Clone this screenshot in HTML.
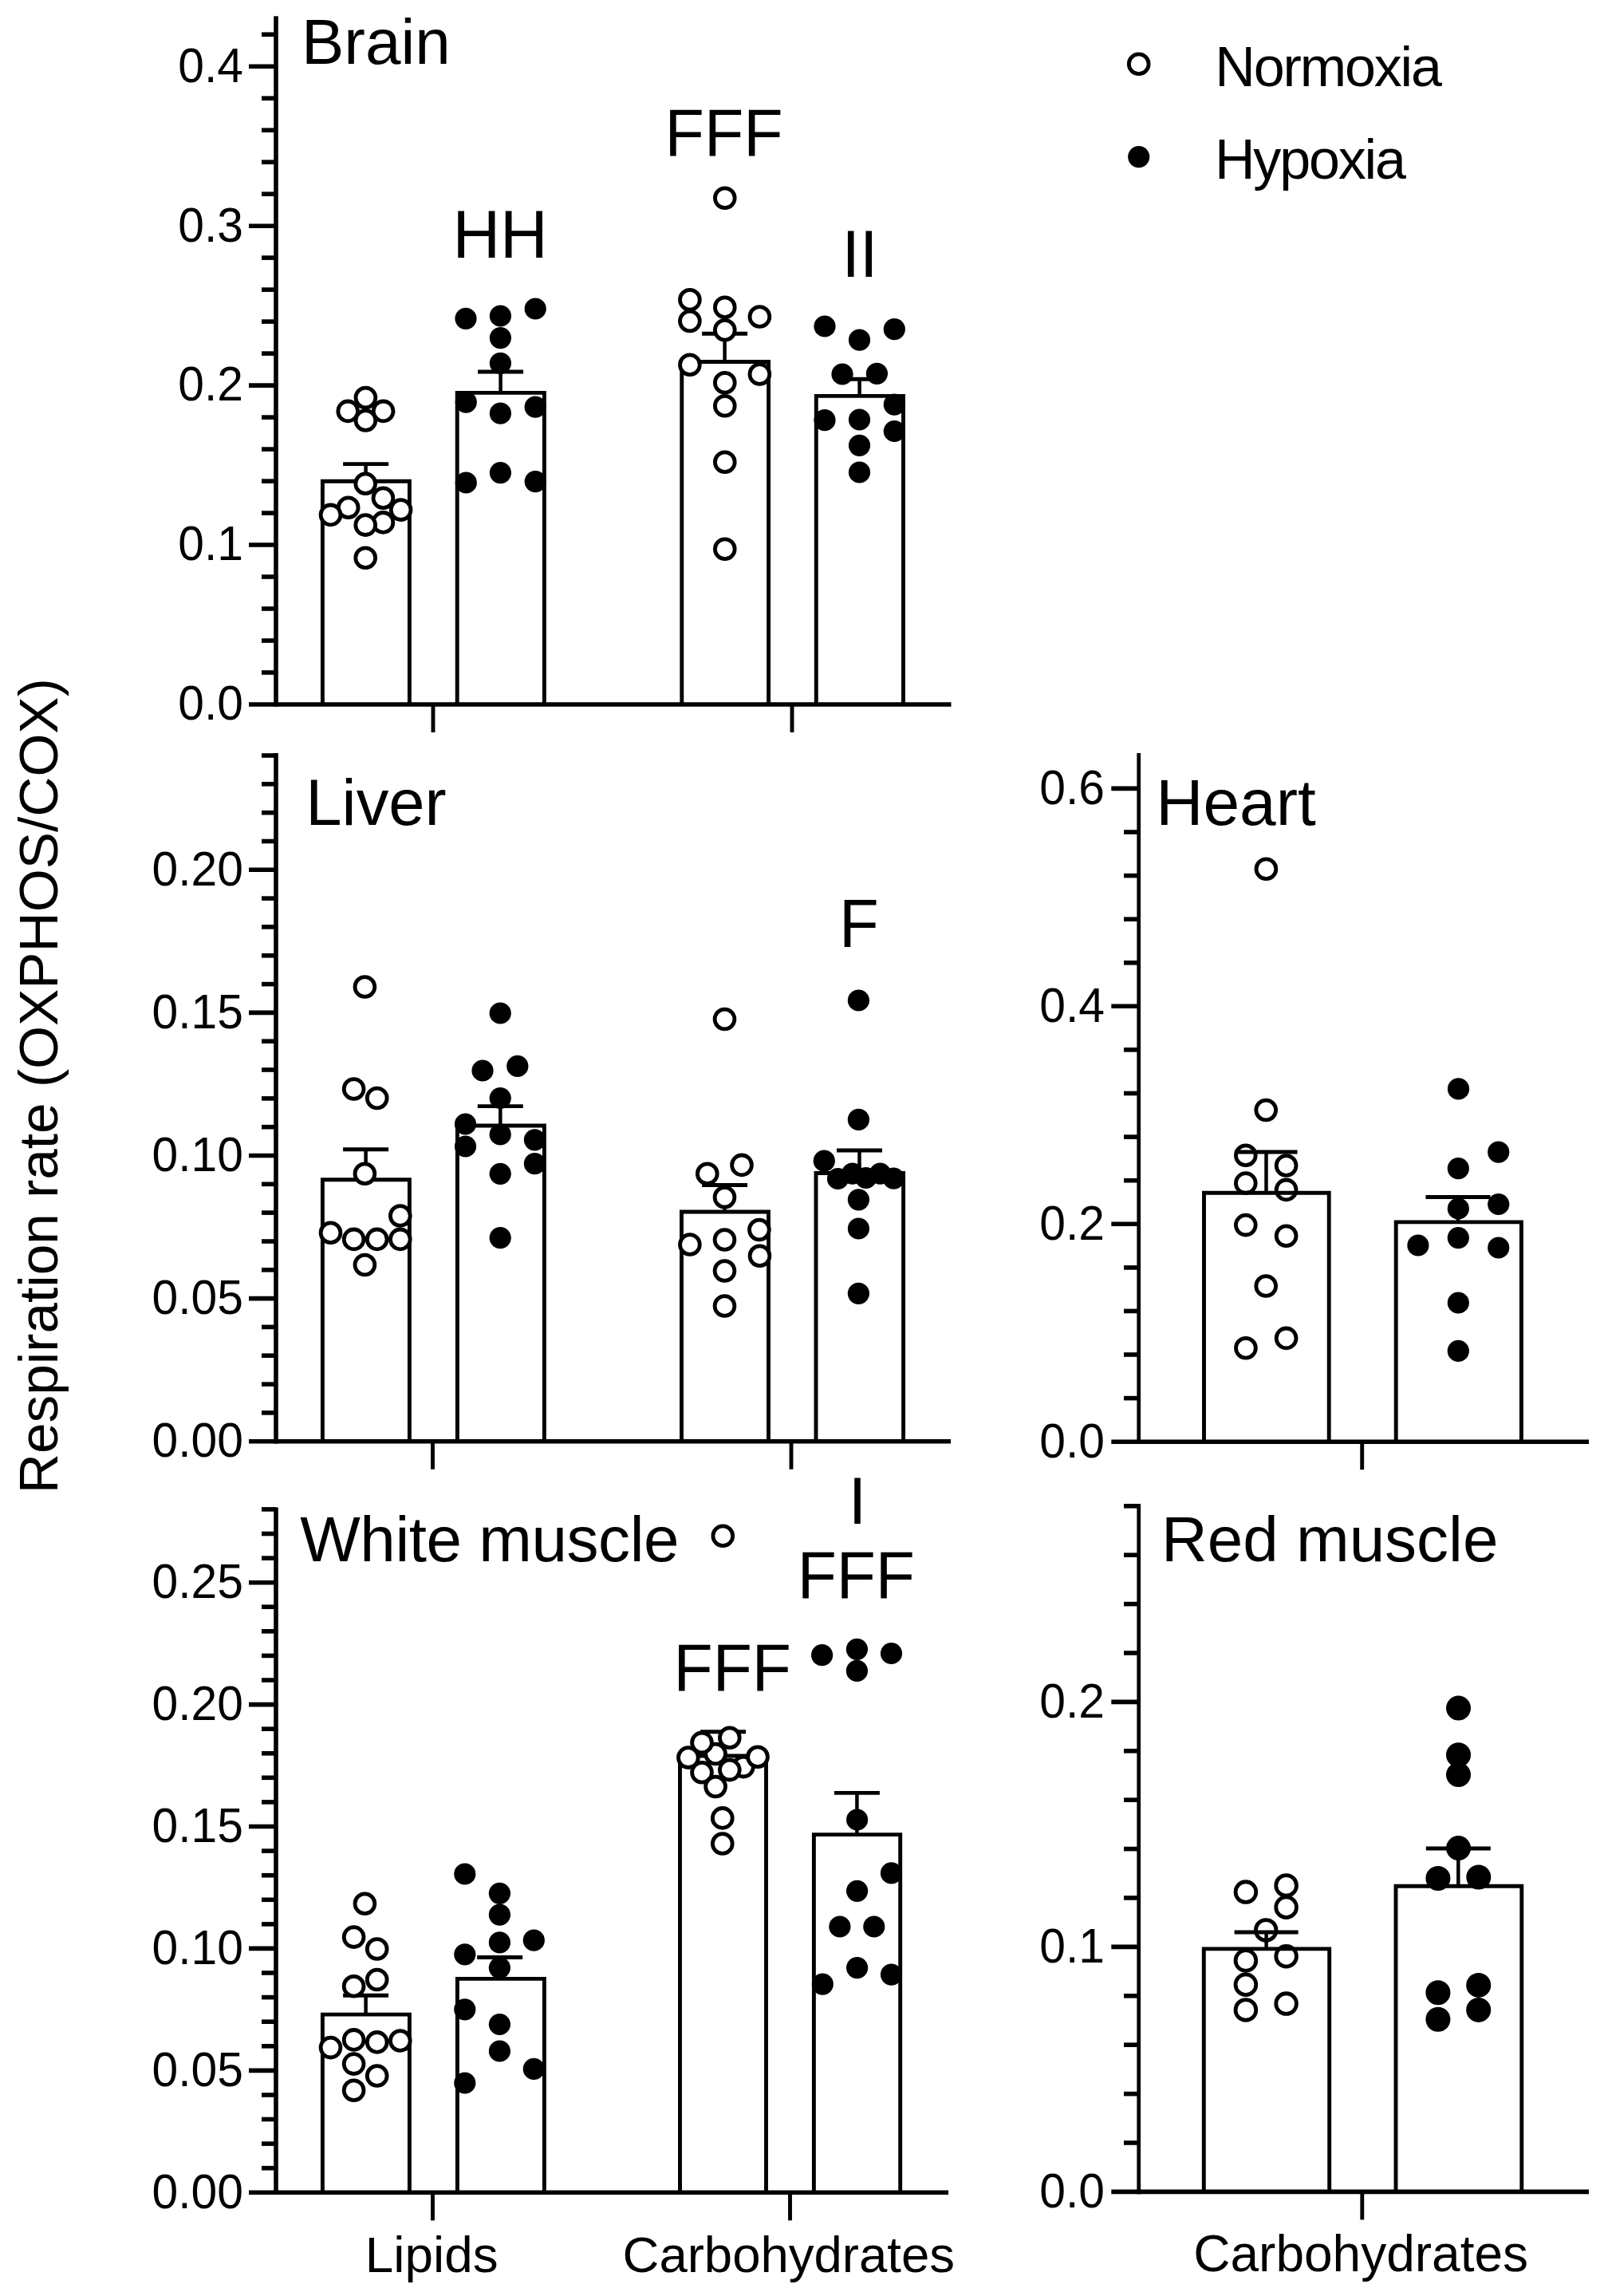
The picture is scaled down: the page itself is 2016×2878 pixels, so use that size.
<!DOCTYPE html>
<html lang="en">
<head>
<meta charset="utf-8">
<title>Respiration rate (OXPHOS/COX)</title>
<style>html,body{margin:0;padding:0;background:#fff}svg{display:block}</style>
</head>
<body>
<svg width="2016" height="2878" viewBox="0 0 2016 2878" font-family='"Liberation Sans", Arial, Helvetica, sans-serif' fill="#000" stroke="#000" shape-rendering="geometricPrecision">
<rect x="0" y="0" width="2016" height="2878" fill="#fff" stroke="none"/>
<g fill="none" stroke="#000" stroke-linecap="butt">
<line x1="346.0" y1="20.3" x2="346.0" y2="885.8" stroke-width="5.6"/>
<line x1="328.0" y1="843.0" x2="346.0" y2="843.0" stroke-width="5.6"/>
<line x1="328.0" y1="803.0" x2="346.0" y2="803.0" stroke-width="5.6"/>
<line x1="328.0" y1="763.0" x2="346.0" y2="763.0" stroke-width="5.6"/>
<line x1="328.0" y1="723.0" x2="346.0" y2="723.0" stroke-width="5.6"/>
<line x1="312.0" y1="683.0" x2="346.0" y2="683.0" stroke-width="5.6"/>
<line x1="328.0" y1="643.1" x2="346.0" y2="643.1" stroke-width="5.6"/>
<line x1="328.0" y1="603.1" x2="346.0" y2="603.1" stroke-width="5.6"/>
<line x1="328.0" y1="563.1" x2="346.0" y2="563.1" stroke-width="5.6"/>
<line x1="328.0" y1="523.1" x2="346.0" y2="523.1" stroke-width="5.6"/>
<line x1="312.0" y1="483.1" x2="346.0" y2="483.1" stroke-width="5.6"/>
<line x1="328.0" y1="443.1" x2="346.0" y2="443.1" stroke-width="5.6"/>
<line x1="328.0" y1="403.1" x2="346.0" y2="403.1" stroke-width="5.6"/>
<line x1="328.0" y1="363.1" x2="346.0" y2="363.1" stroke-width="5.6"/>
<line x1="328.0" y1="323.1" x2="346.0" y2="323.1" stroke-width="5.6"/>
<line x1="312.0" y1="283.2" x2="346.0" y2="283.2" stroke-width="5.6"/>
<line x1="328.0" y1="243.2" x2="346.0" y2="243.2" stroke-width="5.6"/>
<line x1="328.0" y1="203.2" x2="346.0" y2="203.2" stroke-width="5.6"/>
<line x1="328.0" y1="163.2" x2="346.0" y2="163.2" stroke-width="5.6"/>
<line x1="328.0" y1="123.2" x2="346.0" y2="123.2" stroke-width="5.6"/>
<line x1="312.0" y1="83.2" x2="346.0" y2="83.2" stroke-width="5.6"/>
<line x1="328.0" y1="43.2" x2="346.0" y2="43.2" stroke-width="5.6"/>
<line x1="312.0" y1="883.0" x2="1192.5" y2="883.0" stroke-width="5.6"/>
<line x1="543.0" y1="883.0" x2="543.0" y2="918.0" stroke-width="4.9"/>
<line x1="993.0" y1="883.0" x2="993.0" y2="918.0" stroke-width="4.9"/>
<path d="M404.4 883.0V603.2H513.4V883.0" fill="none" stroke-width="4.9" stroke-linejoin="miter"/>
<path d="M573.2 883.0V492.4H682.4V883.0" fill="none" stroke-width="4.9" stroke-linejoin="miter"/>
<path d="M854.8 883.0V453.5H963.6V883.0" fill="none" stroke-width="4.9" stroke-linejoin="miter"/>
<path d="M1023.3 883.0V496.4H1132.5V883.0" fill="none" stroke-width="4.9" stroke-linejoin="miter"/>
<line x1="430.1" y1="581.6" x2="487.1" y2="581.6" stroke-width="4.9"/>
<line x1="458.6" y1="581.6" x2="458.6" y2="603.2" stroke-width="4.5"/>
<line x1="599.1" y1="466.0" x2="656.1" y2="466.0" stroke-width="4.9"/>
<line x1="627.6" y1="466.0" x2="627.6" y2="492.4" stroke-width="4.5"/>
<line x1="880.1" y1="418.3" x2="937.1" y2="418.3" stroke-width="4.9"/>
<line x1="908.6" y1="418.3" x2="908.6" y2="453.5" stroke-width="4.5"/>
<line x1="1049.1" y1="475.3" x2="1106.1" y2="475.3" stroke-width="4.9"/>
<line x1="1077.6" y1="475.3" x2="1077.6" y2="496.4" stroke-width="4.5"/>
<line x1="346.0" y1="944.0" x2="346.0" y2="1809.5" stroke-width="5.6"/>
<line x1="328.0" y1="1770.9" x2="346.0" y2="1770.9" stroke-width="5.6"/>
<line x1="328.0" y1="1735.1" x2="346.0" y2="1735.1" stroke-width="5.6"/>
<line x1="328.0" y1="1699.2" x2="346.0" y2="1699.2" stroke-width="5.6"/>
<line x1="328.0" y1="1663.4" x2="346.0" y2="1663.4" stroke-width="5.6"/>
<line x1="312.0" y1="1627.6" x2="346.0" y2="1627.6" stroke-width="5.6"/>
<line x1="328.0" y1="1591.8" x2="346.0" y2="1591.8" stroke-width="5.6"/>
<line x1="328.0" y1="1556.0" x2="346.0" y2="1556.0" stroke-width="5.6"/>
<line x1="328.0" y1="1520.1" x2="346.0" y2="1520.1" stroke-width="5.6"/>
<line x1="328.0" y1="1484.3" x2="346.0" y2="1484.3" stroke-width="5.6"/>
<line x1="312.0" y1="1448.5" x2="346.0" y2="1448.5" stroke-width="5.6"/>
<line x1="328.0" y1="1412.7" x2="346.0" y2="1412.7" stroke-width="5.6"/>
<line x1="328.0" y1="1376.9" x2="346.0" y2="1376.9" stroke-width="5.6"/>
<line x1="328.0" y1="1341.0" x2="346.0" y2="1341.0" stroke-width="5.6"/>
<line x1="328.0" y1="1305.2" x2="346.0" y2="1305.2" stroke-width="5.6"/>
<line x1="312.0" y1="1269.4" x2="346.0" y2="1269.4" stroke-width="5.6"/>
<line x1="328.0" y1="1233.6" x2="346.0" y2="1233.6" stroke-width="5.6"/>
<line x1="328.0" y1="1197.8" x2="346.0" y2="1197.8" stroke-width="5.6"/>
<line x1="328.0" y1="1161.9" x2="346.0" y2="1161.9" stroke-width="5.6"/>
<line x1="328.0" y1="1126.1" x2="346.0" y2="1126.1" stroke-width="5.6"/>
<line x1="312.0" y1="1090.3" x2="346.0" y2="1090.3" stroke-width="5.6"/>
<line x1="328.0" y1="1054.5" x2="346.0" y2="1054.5" stroke-width="5.6"/>
<line x1="328.0" y1="1018.7" x2="346.0" y2="1018.7" stroke-width="5.6"/>
<line x1="328.0" y1="982.8" x2="346.0" y2="982.8" stroke-width="5.6"/>
<line x1="328.0" y1="947.0" x2="346.0" y2="947.0" stroke-width="5.6"/>
<line x1="312.0" y1="1806.7" x2="1192.0" y2="1806.7" stroke-width="5.6"/>
<line x1="542.5" y1="1806.7" x2="542.5" y2="1841.7" stroke-width="4.9"/>
<line x1="992.0" y1="1806.7" x2="992.0" y2="1841.7" stroke-width="4.9"/>
<path d="M404.4 1806.7V1478.8H513.4V1806.7" fill="none" stroke-width="4.9" stroke-linejoin="miter"/>
<path d="M573.4 1806.7V1411.0H682.4V1806.7" fill="none" stroke-width="4.9" stroke-linejoin="miter"/>
<path d="M854.5 1806.7V1519.0H963.5V1806.7" fill="none" stroke-width="4.9" stroke-linejoin="miter"/>
<path d="M1023.0 1806.7V1470.5H1132.6V1806.7" fill="none" stroke-width="4.9" stroke-linejoin="miter"/>
<line x1="430.1" y1="1440.7" x2="487.1" y2="1440.7" stroke-width="4.9"/>
<line x1="458.6" y1="1440.7" x2="458.6" y2="1478.8" stroke-width="4.5"/>
<line x1="598.8" y1="1386.6" x2="655.8" y2="1386.6" stroke-width="4.9"/>
<line x1="627.3" y1="1386.6" x2="627.3" y2="1411.0" stroke-width="4.5"/>
<line x1="880.1" y1="1485.5" x2="937.1" y2="1485.5" stroke-width="4.9"/>
<line x1="908.6" y1="1485.5" x2="908.6" y2="1519.0" stroke-width="4.5"/>
<line x1="1049.0" y1="1442.0" x2="1106.0" y2="1442.0" stroke-width="4.9"/>
<line x1="1077.5" y1="1442.0" x2="1077.5" y2="1470.5" stroke-width="4.5"/>
<line x1="346.0" y1="1889.4" x2="346.0" y2="2751.1" stroke-width="5.6"/>
<line x1="328.0" y1="2717.7" x2="346.0" y2="2717.7" stroke-width="5.6"/>
<line x1="328.0" y1="2687.1" x2="346.0" y2="2687.1" stroke-width="5.6"/>
<line x1="328.0" y1="2656.5" x2="346.0" y2="2656.5" stroke-width="5.6"/>
<line x1="328.0" y1="2626.0" x2="346.0" y2="2626.0" stroke-width="5.6"/>
<line x1="312.0" y1="2595.4" x2="346.0" y2="2595.4" stroke-width="5.6"/>
<line x1="328.0" y1="2564.8" x2="346.0" y2="2564.8" stroke-width="5.6"/>
<line x1="328.0" y1="2534.2" x2="346.0" y2="2534.2" stroke-width="5.6"/>
<line x1="328.0" y1="2503.6" x2="346.0" y2="2503.6" stroke-width="5.6"/>
<line x1="328.0" y1="2473.0" x2="346.0" y2="2473.0" stroke-width="5.6"/>
<line x1="312.0" y1="2442.4" x2="346.0" y2="2442.4" stroke-width="5.6"/>
<line x1="328.0" y1="2411.9" x2="346.0" y2="2411.9" stroke-width="5.6"/>
<line x1="328.0" y1="2381.3" x2="346.0" y2="2381.3" stroke-width="5.6"/>
<line x1="328.0" y1="2350.7" x2="346.0" y2="2350.7" stroke-width="5.6"/>
<line x1="328.0" y1="2320.1" x2="346.0" y2="2320.1" stroke-width="5.6"/>
<line x1="312.0" y1="2289.5" x2="346.0" y2="2289.5" stroke-width="5.6"/>
<line x1="328.0" y1="2258.9" x2="346.0" y2="2258.9" stroke-width="5.6"/>
<line x1="328.0" y1="2228.3" x2="346.0" y2="2228.3" stroke-width="5.6"/>
<line x1="328.0" y1="2197.8" x2="346.0" y2="2197.8" stroke-width="5.6"/>
<line x1="328.0" y1="2167.2" x2="346.0" y2="2167.2" stroke-width="5.6"/>
<line x1="312.0" y1="2136.6" x2="346.0" y2="2136.6" stroke-width="5.6"/>
<line x1="328.0" y1="2106.0" x2="346.0" y2="2106.0" stroke-width="5.6"/>
<line x1="328.0" y1="2075.4" x2="346.0" y2="2075.4" stroke-width="5.6"/>
<line x1="328.0" y1="2044.8" x2="346.0" y2="2044.8" stroke-width="5.6"/>
<line x1="328.0" y1="2014.2" x2="346.0" y2="2014.2" stroke-width="5.6"/>
<line x1="312.0" y1="1983.7" x2="346.0" y2="1983.7" stroke-width="5.6"/>
<line x1="328.0" y1="1953.1" x2="346.0" y2="1953.1" stroke-width="5.6"/>
<line x1="328.0" y1="1922.5" x2="346.0" y2="1922.5" stroke-width="5.6"/>
<line x1="328.0" y1="1891.9" x2="346.0" y2="1891.9" stroke-width="5.6"/>
<line x1="312.0" y1="2748.3" x2="1189.0" y2="2748.3" stroke-width="5.6"/>
<line x1="542.5" y1="2748.3" x2="542.5" y2="2783.3" stroke-width="4.9"/>
<line x1="990.5" y1="2748.3" x2="990.5" y2="2783.3" stroke-width="4.9"/>
<path d="M404.4 2748.3V2525.1H513.4V2748.3" fill="none" stroke-width="4.9" stroke-linejoin="miter"/>
<path d="M573.4 2748.3V2480.4H682.4V2748.3" fill="none" stroke-width="4.9" stroke-linejoin="miter"/>
<path d="M852.5 2748.3V2201.0H960.5V2748.3" fill="none" stroke-width="4.9" stroke-linejoin="miter"/>
<path d="M1020.4 2748.3V2299.6H1128.7V2748.3" fill="none" stroke-width="4.9" stroke-linejoin="miter"/>
<line x1="430.1" y1="2501.3" x2="487.1" y2="2501.3" stroke-width="4.9"/>
<line x1="458.6" y1="2501.3" x2="458.6" y2="2525.1" stroke-width="4.5"/>
<line x1="598.2" y1="2453.5" x2="655.2" y2="2453.5" stroke-width="4.9"/>
<line x1="626.7" y1="2453.5" x2="626.7" y2="2480.4" stroke-width="4.5"/>
<line x1="878.1" y1="2170.7" x2="935.1" y2="2170.7" stroke-width="4.9"/>
<line x1="906.6" y1="2170.7" x2="906.6" y2="2201.0" stroke-width="4.5"/>
<line x1="1045.9" y1="2247.4" x2="1102.9" y2="2247.4" stroke-width="4.9"/>
<line x1="1074.4" y1="2247.4" x2="1074.4" y2="2299.6" stroke-width="4.5"/>
<line x1="1427.7" y1="944.0" x2="1427.7" y2="1810.0" stroke-width="4.7"/>
<line x1="1409.0" y1="1752.6" x2="1428.0" y2="1752.6" stroke-width="5.6"/>
<line x1="1409.0" y1="1698.0" x2="1428.0" y2="1698.0" stroke-width="5.6"/>
<line x1="1409.0" y1="1643.4" x2="1428.0" y2="1643.4" stroke-width="5.6"/>
<line x1="1409.0" y1="1588.9" x2="1428.0" y2="1588.9" stroke-width="5.6"/>
<line x1="1393.3" y1="1534.3" x2="1428.0" y2="1534.3" stroke-width="5.6"/>
<line x1="1409.0" y1="1479.7" x2="1428.0" y2="1479.7" stroke-width="5.6"/>
<line x1="1409.0" y1="1425.1" x2="1428.0" y2="1425.1" stroke-width="5.6"/>
<line x1="1409.0" y1="1370.5" x2="1428.0" y2="1370.5" stroke-width="5.6"/>
<line x1="1409.0" y1="1315.9" x2="1428.0" y2="1315.9" stroke-width="5.6"/>
<line x1="1393.3" y1="1261.3" x2="1428.0" y2="1261.3" stroke-width="5.6"/>
<line x1="1409.0" y1="1206.8" x2="1428.0" y2="1206.8" stroke-width="5.6"/>
<line x1="1409.0" y1="1152.2" x2="1428.0" y2="1152.2" stroke-width="5.6"/>
<line x1="1409.0" y1="1097.6" x2="1428.0" y2="1097.6" stroke-width="5.6"/>
<line x1="1409.0" y1="1043.0" x2="1428.0" y2="1043.0" stroke-width="5.6"/>
<line x1="1393.3" y1="988.4" x2="1428.0" y2="988.4" stroke-width="5.6"/>
<line x1="1393.3" y1="1807.2" x2="1992.0" y2="1807.2" stroke-width="5.6"/>
<line x1="1707.7" y1="1807.2" x2="1707.7" y2="1842.2" stroke-width="4.9"/>
<line x1="1427.7" y1="1884.9" x2="1427.7" y2="2750.2" stroke-width="4.7"/>
<line x1="1409.0" y1="2686.0" x2="1428.0" y2="2686.0" stroke-width="5.6"/>
<line x1="1409.0" y1="2624.6" x2="1428.0" y2="2624.6" stroke-width="5.6"/>
<line x1="1409.0" y1="2563.2" x2="1428.0" y2="2563.2" stroke-width="5.6"/>
<line x1="1409.0" y1="2501.8" x2="1428.0" y2="2501.8" stroke-width="5.6"/>
<line x1="1393.3" y1="2440.4" x2="1428.0" y2="2440.4" stroke-width="5.6"/>
<line x1="1409.0" y1="2379.0" x2="1428.0" y2="2379.0" stroke-width="5.6"/>
<line x1="1409.0" y1="2317.6" x2="1428.0" y2="2317.6" stroke-width="5.6"/>
<line x1="1409.0" y1="2256.2" x2="1428.0" y2="2256.2" stroke-width="5.6"/>
<line x1="1409.0" y1="2194.8" x2="1428.0" y2="2194.8" stroke-width="5.6"/>
<line x1="1393.3" y1="2133.4" x2="1428.0" y2="2133.4" stroke-width="5.6"/>
<line x1="1409.0" y1="2072.0" x2="1428.0" y2="2072.0" stroke-width="5.6"/>
<line x1="1409.0" y1="2010.6" x2="1428.0" y2="2010.6" stroke-width="5.6"/>
<line x1="1409.0" y1="1949.2" x2="1428.0" y2="1949.2" stroke-width="5.6"/>
<line x1="1409.0" y1="1887.8" x2="1428.0" y2="1887.8" stroke-width="5.6"/>
<line x1="1393.3" y1="2747.4" x2="1992.0" y2="2747.4" stroke-width="5.6"/>
<line x1="1707.8" y1="2747.4" x2="1707.8" y2="2782.4" stroke-width="4.9"/>
</g>
<g stroke="#000">
<circle cx="458.4" cy="498.5" r="12.4" fill="#fff" stroke-width="4.8"/>
<circle cx="436.2" cy="515.4" r="12.4" fill="#fff" stroke-width="4.8"/>
<circle cx="480.6" cy="515.4" r="12.4" fill="#fff" stroke-width="4.8"/>
<circle cx="458.4" cy="527.0" r="12.4" fill="#fff" stroke-width="4.8"/>
<circle cx="458.2" cy="606.3" r="12.4" fill="#fff" stroke-width="4.8"/>
<circle cx="480.4" cy="624.3" r="12.4" fill="#fff" stroke-width="4.8"/>
<circle cx="436.7" cy="636.3" r="12.4" fill="#fff" stroke-width="4.8"/>
<circle cx="414.5" cy="645.4" r="12.4" fill="#fff" stroke-width="4.8"/>
<circle cx="480.4" cy="654.9" r="12.4" fill="#fff" stroke-width="4.8"/>
<circle cx="502.6" cy="639.1" r="12.4" fill="#fff" stroke-width="4.8"/>
<circle cx="458.2" cy="658.1" r="12.4" fill="#fff" stroke-width="4.8"/>
<circle cx="458.2" cy="699.3" r="12.4" fill="#fff" stroke-width="4.8"/>
<circle cx="584.0" cy="399.3" r="13.6" fill="#000" stroke="none"/>
<circle cx="627.4" cy="396.0" r="13.6" fill="#000" stroke="none"/>
<circle cx="671.2" cy="387.0" r="13.6" fill="#000" stroke="none"/>
<circle cx="627.4" cy="423.6" r="13.6" fill="#000" stroke="none"/>
<circle cx="627.4" cy="455.3" r="13.6" fill="#000" stroke="none"/>
<circle cx="584.3" cy="504.2" r="13.6" fill="#000" stroke="none"/>
<circle cx="671.2" cy="510.2" r="13.6" fill="#000" stroke="none"/>
<circle cx="627.4" cy="518.2" r="13.6" fill="#000" stroke="none"/>
<circle cx="584.3" cy="605.0" r="13.6" fill="#000" stroke="none"/>
<circle cx="627.4" cy="592.6" r="13.6" fill="#000" stroke="none"/>
<circle cx="671.2" cy="603.6" r="13.6" fill="#000" stroke="none"/>
<circle cx="908.8" cy="248.3" r="12.4" fill="#fff" stroke-width="4.8"/>
<circle cx="864.9" cy="375.7" r="12.4" fill="#fff" stroke-width="4.8"/>
<circle cx="864.9" cy="402.5" r="12.4" fill="#fff" stroke-width="4.8"/>
<circle cx="908.8" cy="385.3" r="12.4" fill="#fff" stroke-width="4.8"/>
<circle cx="952.4" cy="397.0" r="12.4" fill="#fff" stroke-width="4.8"/>
<circle cx="908.8" cy="413.8" r="12.4" fill="#fff" stroke-width="4.8"/>
<circle cx="864.9" cy="457.3" r="12.4" fill="#fff" stroke-width="4.8"/>
<circle cx="952.4" cy="469.0" r="12.4" fill="#fff" stroke-width="4.8"/>
<circle cx="908.8" cy="479.7" r="12.4" fill="#fff" stroke-width="4.8"/>
<circle cx="908.8" cy="508.7" r="12.4" fill="#fff" stroke-width="4.8"/>
<circle cx="908.8" cy="579.3" r="12.4" fill="#fff" stroke-width="4.8"/>
<circle cx="908.8" cy="688.3" r="12.4" fill="#fff" stroke-width="4.8"/>
<circle cx="1034.0" cy="409.0" r="13.6" fill="#000" stroke="none"/>
<circle cx="1077.5" cy="426.2" r="13.6" fill="#000" stroke="none"/>
<circle cx="1121.3" cy="412.7" r="13.6" fill="#000" stroke="none"/>
<circle cx="1056.0" cy="469.0" r="13.6" fill="#000" stroke="none"/>
<circle cx="1099.4" cy="468.3" r="13.6" fill="#000" stroke="none"/>
<circle cx="1121.3" cy="507.1" r="13.6" fill="#000" stroke="none"/>
<circle cx="1034.0" cy="526.7" r="13.6" fill="#000" stroke="none"/>
<circle cx="1077.5" cy="526.0" r="13.6" fill="#000" stroke="none"/>
<circle cx="1121.3" cy="540.5" r="13.6" fill="#000" stroke="none"/>
<circle cx="1077.5" cy="558.3" r="13.6" fill="#000" stroke="none"/>
<circle cx="1077.5" cy="592.0" r="13.6" fill="#000" stroke="none"/>
<circle cx="457.4" cy="1237.0" r="12.4" fill="#fff" stroke-width="4.8"/>
<circle cx="443.6" cy="1365.0" r="12.4" fill="#fff" stroke-width="4.8"/>
<circle cx="472.7" cy="1376.5" r="12.4" fill="#fff" stroke-width="4.8"/>
<circle cx="457.4" cy="1471.3" r="12.4" fill="#fff" stroke-width="4.8"/>
<circle cx="501.8" cy="1524.0" r="12.4" fill="#fff" stroke-width="4.8"/>
<circle cx="414.5" cy="1545.2" r="12.4" fill="#fff" stroke-width="4.8"/>
<circle cx="443.6" cy="1553.4" r="12.4" fill="#fff" stroke-width="4.8"/>
<circle cx="472.7" cy="1553.4" r="12.4" fill="#fff" stroke-width="4.8"/>
<circle cx="501.8" cy="1553.4" r="12.4" fill="#fff" stroke-width="4.8"/>
<circle cx="457.4" cy="1585.5" r="12.4" fill="#fff" stroke-width="4.8"/>
<circle cx="627.2" cy="1270.0" r="13.6" fill="#000" stroke="none"/>
<circle cx="605.0" cy="1342.0" r="13.6" fill="#000" stroke="none"/>
<circle cx="648.8" cy="1336.4" r="13.6" fill="#000" stroke="none"/>
<circle cx="627.2" cy="1376.5" r="13.6" fill="#000" stroke="none"/>
<circle cx="583.5" cy="1409.0" r="13.6" fill="#000" stroke="none"/>
<circle cx="583.5" cy="1437.0" r="13.6" fill="#000" stroke="none"/>
<circle cx="627.2" cy="1422.0" r="13.6" fill="#000" stroke="none"/>
<circle cx="670.4" cy="1428.8" r="13.6" fill="#000" stroke="none"/>
<circle cx="670.4" cy="1458.7" r="13.6" fill="#000" stroke="none"/>
<circle cx="627.2" cy="1471.3" r="13.6" fill="#000" stroke="none"/>
<circle cx="627.2" cy="1551.6" r="13.6" fill="#000" stroke="none"/>
<circle cx="908.5" cy="1277.5" r="12.4" fill="#fff" stroke-width="4.8"/>
<circle cx="886.8" cy="1471.3" r="12.4" fill="#fff" stroke-width="4.8"/>
<circle cx="930.0" cy="1460.4" r="12.4" fill="#fff" stroke-width="4.8"/>
<circle cx="908.5" cy="1500.7" r="12.4" fill="#fff" stroke-width="4.8"/>
<circle cx="864.9" cy="1560.0" r="12.4" fill="#fff" stroke-width="4.8"/>
<circle cx="908.5" cy="1554.0" r="12.4" fill="#fff" stroke-width="4.8"/>
<circle cx="951.9" cy="1541.5" r="12.4" fill="#fff" stroke-width="4.8"/>
<circle cx="952.5" cy="1574.3" r="12.4" fill="#fff" stroke-width="4.8"/>
<circle cx="908.5" cy="1593.0" r="12.4" fill="#fff" stroke-width="4.8"/>
<circle cx="908.5" cy="1637.0" r="12.4" fill="#fff" stroke-width="4.8"/>
<circle cx="1076.4" cy="1254.0" r="13.6" fill="#000" stroke="none"/>
<circle cx="1076.4" cy="1403.4" r="13.6" fill="#000" stroke="none"/>
<circle cx="1033.3" cy="1455.2" r="13.6" fill="#000" stroke="none"/>
<circle cx="1050.5" cy="1477.5" r="13.6" fill="#000" stroke="none"/>
<circle cx="1068.7" cy="1471.2" r="13.6" fill="#000" stroke="none"/>
<circle cx="1085.6" cy="1476.5" r="13.6" fill="#000" stroke="none"/>
<circle cx="1103.5" cy="1471.2" r="13.6" fill="#000" stroke="none"/>
<circle cx="1120.4" cy="1477.2" r="13.6" fill="#000" stroke="none"/>
<circle cx="1076.4" cy="1503.8" r="13.6" fill="#000" stroke="none"/>
<circle cx="1076.4" cy="1540.0" r="13.6" fill="#000" stroke="none"/>
<circle cx="1076.4" cy="1621.3" r="13.6" fill="#000" stroke="none"/>
<circle cx="457.4" cy="2386.3" r="12.4" fill="#fff" stroke-width="4.8"/>
<circle cx="443.6" cy="2428.1" r="12.4" fill="#fff" stroke-width="4.8"/>
<circle cx="472.7" cy="2443.0" r="12.4" fill="#fff" stroke-width="4.8"/>
<circle cx="472.7" cy="2481.5" r="12.4" fill="#fff" stroke-width="4.8"/>
<circle cx="443.6" cy="2489.7" r="12.4" fill="#fff" stroke-width="4.8"/>
<circle cx="414.5" cy="2566.6" r="12.4" fill="#fff" stroke-width="4.8"/>
<circle cx="443.6" cy="2556.9" r="12.4" fill="#fff" stroke-width="4.8"/>
<circle cx="472.7" cy="2559.9" r="12.4" fill="#fff" stroke-width="4.8"/>
<circle cx="501.8" cy="2558.0" r="12.4" fill="#fff" stroke-width="4.8"/>
<circle cx="443.6" cy="2587.1" r="12.4" fill="#fff" stroke-width="4.8"/>
<circle cx="472.7" cy="2602.0" r="12.4" fill="#fff" stroke-width="4.8"/>
<circle cx="443.6" cy="2620.3" r="12.4" fill="#fff" stroke-width="4.8"/>
<circle cx="582.8" cy="2349.0" r="13.6" fill="#000" stroke="none"/>
<circle cx="626.4" cy="2373.3" r="13.6" fill="#000" stroke="none"/>
<circle cx="626.4" cy="2400.1" r="13.6" fill="#000" stroke="none"/>
<circle cx="626.4" cy="2434.9" r="13.6" fill="#000" stroke="none"/>
<circle cx="669.3" cy="2432.2" r="13.6" fill="#000" stroke="none"/>
<circle cx="582.8" cy="2449.8" r="13.6" fill="#000" stroke="none"/>
<circle cx="626.4" cy="2466.6" r="13.6" fill="#000" stroke="none"/>
<circle cx="582.8" cy="2518.8" r="13.6" fill="#000" stroke="none"/>
<circle cx="626.4" cy="2537.5" r="13.6" fill="#000" stroke="none"/>
<circle cx="626.4" cy="2571.0" r="13.6" fill="#000" stroke="none"/>
<circle cx="669.3" cy="2593.4" r="13.6" fill="#000" stroke="none"/>
<circle cx="582.8" cy="2611.0" r="13.6" fill="#000" stroke="none"/>
<circle cx="906.3" cy="1925.2" r="12.4" fill="#fff" stroke-width="4.8"/>
<circle cx="932.0" cy="2214.6" r="12.4" fill="#fff" stroke-width="4.8"/>
<circle cx="897.1" cy="2198.5" r="12.4" fill="#fff" stroke-width="4.8"/>
<circle cx="914.8" cy="2178.3" r="12.4" fill="#fff" stroke-width="4.8"/>
<circle cx="880.0" cy="2184.4" r="12.4" fill="#fff" stroke-width="4.8"/>
<circle cx="862.9" cy="2203.1" r="12.4" fill="#fff" stroke-width="4.8"/>
<circle cx="950.0" cy="2202.2" r="12.4" fill="#fff" stroke-width="4.8"/>
<circle cx="914.8" cy="2218.6" r="12.4" fill="#fff" stroke-width="4.8"/>
<circle cx="880.0" cy="2221.7" r="12.4" fill="#fff" stroke-width="4.8"/>
<circle cx="897.1" cy="2239.5" r="12.4" fill="#fff" stroke-width="4.8"/>
<circle cx="905.8" cy="2278.9" r="12.4" fill="#fff" stroke-width="4.8"/>
<circle cx="905.8" cy="2311.0" r="12.4" fill="#fff" stroke-width="4.8"/>
<circle cx="1030.6" cy="2074.7" r="13.6" fill="#000" stroke="none"/>
<circle cx="1074.4" cy="2067.3" r="13.6" fill="#000" stroke="none"/>
<circle cx="1074.4" cy="2094.4" r="13.6" fill="#000" stroke="none"/>
<circle cx="1117.5" cy="2072.5" r="13.6" fill="#000" stroke="none"/>
<circle cx="1074.6" cy="2281.0" r="13.6" fill="#000" stroke="none"/>
<circle cx="1117.5" cy="2347.9" r="13.6" fill="#000" stroke="none"/>
<circle cx="1074.6" cy="2370.3" r="13.6" fill="#000" stroke="none"/>
<circle cx="1052.9" cy="2415.0" r="13.6" fill="#000" stroke="none"/>
<circle cx="1095.8" cy="2415.0" r="13.6" fill="#000" stroke="none"/>
<circle cx="1074.6" cy="2466.6" r="13.6" fill="#000" stroke="none"/>
<circle cx="1117.5" cy="2475.1" r="13.6" fill="#000" stroke="none"/>
<circle cx="1031.3" cy="2487.1" r="13.6" fill="#000" stroke="none"/>
<circle cx="1587.4" cy="1089.2" r="12.4" fill="#fff" stroke-width="4.8"/>
<circle cx="1587.2" cy="1391.5" r="12.4" fill="#fff" stroke-width="4.8"/>
<circle cx="1561.8" cy="1448.3" r="12.4" fill="#fff" stroke-width="4.8"/>
<circle cx="1612.6" cy="1461.0" r="12.4" fill="#fff" stroke-width="4.8"/>
<circle cx="1561.8" cy="1483.1" r="12.4" fill="#fff" stroke-width="4.8"/>
<circle cx="1612.6" cy="1491.4" r="12.4" fill="#fff" stroke-width="4.8"/>
<circle cx="1561.8" cy="1535.6" r="12.4" fill="#fff" stroke-width="4.8"/>
<circle cx="1612.6" cy="1549.3" r="12.4" fill="#fff" stroke-width="4.8"/>
<circle cx="1587.2" cy="1612.0" r="12.4" fill="#fff" stroke-width="4.8"/>
<circle cx="1612.6" cy="1677.4" r="12.4" fill="#fff" stroke-width="4.8"/>
<circle cx="1561.9" cy="1689.7" r="12.4" fill="#fff" stroke-width="4.8"/>
<circle cx="1828.5" cy="1364.9" r="13.6" fill="#000" stroke="none"/>
<circle cx="1878.7" cy="1444.2" r="13.6" fill="#000" stroke="none"/>
<circle cx="1828.3" cy="1464.7" r="13.6" fill="#000" stroke="none"/>
<circle cx="1878.7" cy="1509.5" r="13.6" fill="#000" stroke="none"/>
<circle cx="1828.3" cy="1515.0" r="13.6" fill="#000" stroke="none"/>
<circle cx="1828.3" cy="1551.6" r="13.6" fill="#000" stroke="none"/>
<circle cx="1777.9" cy="1561.0" r="13.6" fill="#000" stroke="none"/>
<circle cx="1878.7" cy="1564.0" r="13.6" fill="#000" stroke="none"/>
<circle cx="1828.3" cy="1633.0" r="13.6" fill="#000" stroke="none"/>
<circle cx="1828.3" cy="1693.4" r="13.6" fill="#000" stroke="none"/>
<circle cx="1561.9" cy="2371.6" r="12.85" fill="#fff" stroke-width="4.8"/>
<circle cx="1612.6" cy="2363.4" r="12.85" fill="#fff" stroke-width="4.8"/>
<circle cx="1612.6" cy="2390.7" r="12.85" fill="#fff" stroke-width="4.8"/>
<circle cx="1587.2" cy="2419.4" r="12.85" fill="#fff" stroke-width="4.8"/>
<circle cx="1561.9" cy="2457.5" r="12.85" fill="#fff" stroke-width="4.8"/>
<circle cx="1612.6" cy="2452.2" r="12.85" fill="#fff" stroke-width="4.8"/>
<circle cx="1561.9" cy="2487.7" r="12.85" fill="#fff" stroke-width="4.8"/>
<circle cx="1612.6" cy="2511.6" r="12.85" fill="#fff" stroke-width="4.8"/>
<circle cx="1561.9" cy="2519.4" r="12.85" fill="#fff" stroke-width="4.8"/>
<circle cx="1828.5" cy="2141.1" r="15.5" fill="#000" stroke="none"/>
<circle cx="1828.5" cy="2199.8" r="15.5" fill="#000" stroke="none"/>
<circle cx="1828.5" cy="2224.6" r="15.5" fill="#000" stroke="none"/>
<circle cx="1828.5" cy="2316.6" r="15.5" fill="#000" stroke="none"/>
<circle cx="1802.9" cy="2354.5" r="15.5" fill="#000" stroke="none"/>
<circle cx="1853.8" cy="2353.0" r="15.5" fill="#000" stroke="none"/>
<circle cx="1802.9" cy="2497.8" r="15.5" fill="#000" stroke="none"/>
<circle cx="1853.7" cy="2488.4" r="15.5" fill="#000" stroke="none"/>
<circle cx="1802.9" cy="2531.3" r="15.5" fill="#000" stroke="none"/>
<circle cx="1853.7" cy="2519.4" r="15.5" fill="#000" stroke="none"/>
<circle cx="1427.7" cy="80.2" r="12.4" fill="#fff" stroke-width="4.8"/>
<circle cx="1427.7" cy="196.6" r="13.6" fill="#000" stroke="none"/>
</g>
<g fill="none" stroke="#000">
<path d="M1509.5 1807.2V1495.3H1666.2V1807.2" fill="none" stroke-width="4.9" stroke-linejoin="miter"/>
<path d="M1750.2 1807.2V1531.9H1907.4V1807.2" fill="none" stroke-width="4.9" stroke-linejoin="miter"/>
<line x1="1548.5" y1="1444.0" x2="1626.5" y2="1444.0" stroke-width="4.9"/>
<line x1="1587.5" y1="1444.0" x2="1587.5" y2="1495.3" stroke-width="4.5"/>
<line x1="1787.5" y1="1500.5" x2="1868.5" y2="1500.5" stroke-width="4.9"/>
<line x1="1828.0" y1="1500.5" x2="1828.0" y2="1531.9" stroke-width="4.5"/>
<path d="M1509.3 2747.4V2442.9H1666.7V2747.4" fill="none" stroke-width="4.9" stroke-linejoin="miter"/>
<path d="M1750.0 2747.4V2364.3H1907.8V2747.4" fill="none" stroke-width="4.9" stroke-linejoin="miter"/>
<line x1="1547.6" y1="2422.0" x2="1627.6" y2="2422.0" stroke-width="4.9"/>
<line x1="1587.6" y1="2422.0" x2="1587.6" y2="2442.9" stroke-width="4.5"/>
<line x1="1787.8" y1="2317.0" x2="1868.8" y2="2317.0" stroke-width="4.9"/>
<line x1="1828.3" y1="2317.0" x2="1828.3" y2="2364.3" stroke-width="4.5"/>
</g>
<g stroke="none" fill="#000">
<text transform="translate(305.0 902.3) scale(1 1.045)" font-size="58.8" text-anchor="end">0.0</text>
<text transform="translate(305.0 702.3) scale(1 1.045)" font-size="58.8" text-anchor="end">0.1</text>
<text transform="translate(305.0 502.4) scale(1 1.045)" font-size="58.8" text-anchor="end">0.2</text>
<text transform="translate(305.0 302.5) scale(1 1.045)" font-size="58.8" text-anchor="end">0.3</text>
<text transform="translate(305.0 102.5) scale(1 1.045)" font-size="58.8" text-anchor="end">0.4</text>
<text transform="translate(305.0 1826.0) scale(1 1.045)" font-size="58.8" text-anchor="end">0.00</text>
<text transform="translate(305.0 1646.9) scale(1 1.045)" font-size="58.8" text-anchor="end">0.05</text>
<text transform="translate(305.0 1467.8) scale(1 1.045)" font-size="58.8" text-anchor="end">0.10</text>
<text transform="translate(305.0 1288.7) scale(1 1.045)" font-size="58.8" text-anchor="end">0.15</text>
<text transform="translate(305.0 1109.6) scale(1 1.045)" font-size="58.8" text-anchor="end">0.20</text>
<text transform="translate(305.0 2767.6) scale(1 1.045)" font-size="58.8" text-anchor="end">0.00</text>
<text transform="translate(305.0 2614.7) scale(1 1.045)" font-size="58.8" text-anchor="end">0.05</text>
<text transform="translate(305.0 2461.7) scale(1 1.045)" font-size="58.8" text-anchor="end">0.10</text>
<text transform="translate(305.0 2308.8) scale(1 1.045)" font-size="58.8" text-anchor="end">0.15</text>
<text transform="translate(305.0 2155.9) scale(1 1.045)" font-size="58.8" text-anchor="end">0.20</text>
<text transform="translate(305.0 2003.0) scale(1 1.045)" font-size="58.8" text-anchor="end">0.25</text>
<text transform="translate(1385.0 1826.5) scale(1 1.045)" font-size="58.8" text-anchor="end">0.0</text>
<text transform="translate(1385.0 1553.6) scale(1 1.045)" font-size="58.8" text-anchor="end">0.2</text>
<text transform="translate(1385.0 1280.6) scale(1 1.045)" font-size="58.8" text-anchor="end">0.4</text>
<text transform="translate(1385.0 1007.7) scale(1 1.045)" font-size="58.8" text-anchor="end">0.6</text>
<text transform="translate(1385.0 2766.7) scale(1 1.045)" font-size="58.8" text-anchor="end">0.0</text>
<text transform="translate(1385.0 2459.7) scale(1 1.045)" font-size="58.8" text-anchor="end">0.1</text>
<text transform="translate(1385.0 2152.7) scale(1 1.045)" font-size="58.8" text-anchor="end">0.2</text>
<text x="378.0" y="79.6" font-size="80" text-anchor="start">Brain</text>
<text x="383.3" y="1034.3" font-size="81.4" text-anchor="start">Liver</text>
<text x="1449.3" y="1033.9" font-size="82" text-anchor="start">Heart</text>
<text x="376.3" y="1956.6" font-size="80" text-anchor="start" letter-spacing="-0.45">White muscle</text>
<text x="1456.0" y="1957.3" font-size="80" text-anchor="start">Red muscle</text>
<text transform="translate(627.1 322.7) scale(1 1.04)" font-size="82.6" text-anchor="middle">HH</text>
<text transform="translate(907.6 195.0) scale(1 1.04)" font-size="80.8" text-anchor="middle">FFF</text>
<text transform="translate(1078.0 347.0) scale(1 1.04)" font-size="80.8" text-anchor="middle">II</text>
<text transform="translate(1076.8 1186.8) scale(1 1.04)" font-size="81.5" text-anchor="middle">F</text>
<text transform="translate(1075.0 1909.5) scale(1 1.04)" font-size="81" text-anchor="middle">I</text>
<text transform="translate(1073.3 2002.8) scale(1 1.04)" font-size="80.4" text-anchor="middle">FFF</text>
<text transform="translate(918.2 2119.3) scale(1 1.04)" font-size="80.4" text-anchor="middle">FFF</text>
<text x="1523.2" y="107.8" font-size="70" text-anchor="start" letter-spacing="-2.1">Normoxia</text>
<text x="1522.9" y="223.5" font-size="70" text-anchor="start" letter-spacing="-2.15">Hypoxia</text>
<text x="541.2" y="2847.5" font-size="63.8" text-anchor="middle">Lipids</text>
<text x="988.8" y="2847.5" font-size="63.5" text-anchor="middle">Carbohydrates</text>
<text x="1706.2" y="2846.8" font-size="64" text-anchor="middle">Carbohydrates</text>
<text transform="translate(71.5 1361.2) rotate(-90)" font-size="69.4" text-anchor="middle">Respiration rate (OXPHOS/COX)</text>
</g>
</svg>
</body>
</html>
